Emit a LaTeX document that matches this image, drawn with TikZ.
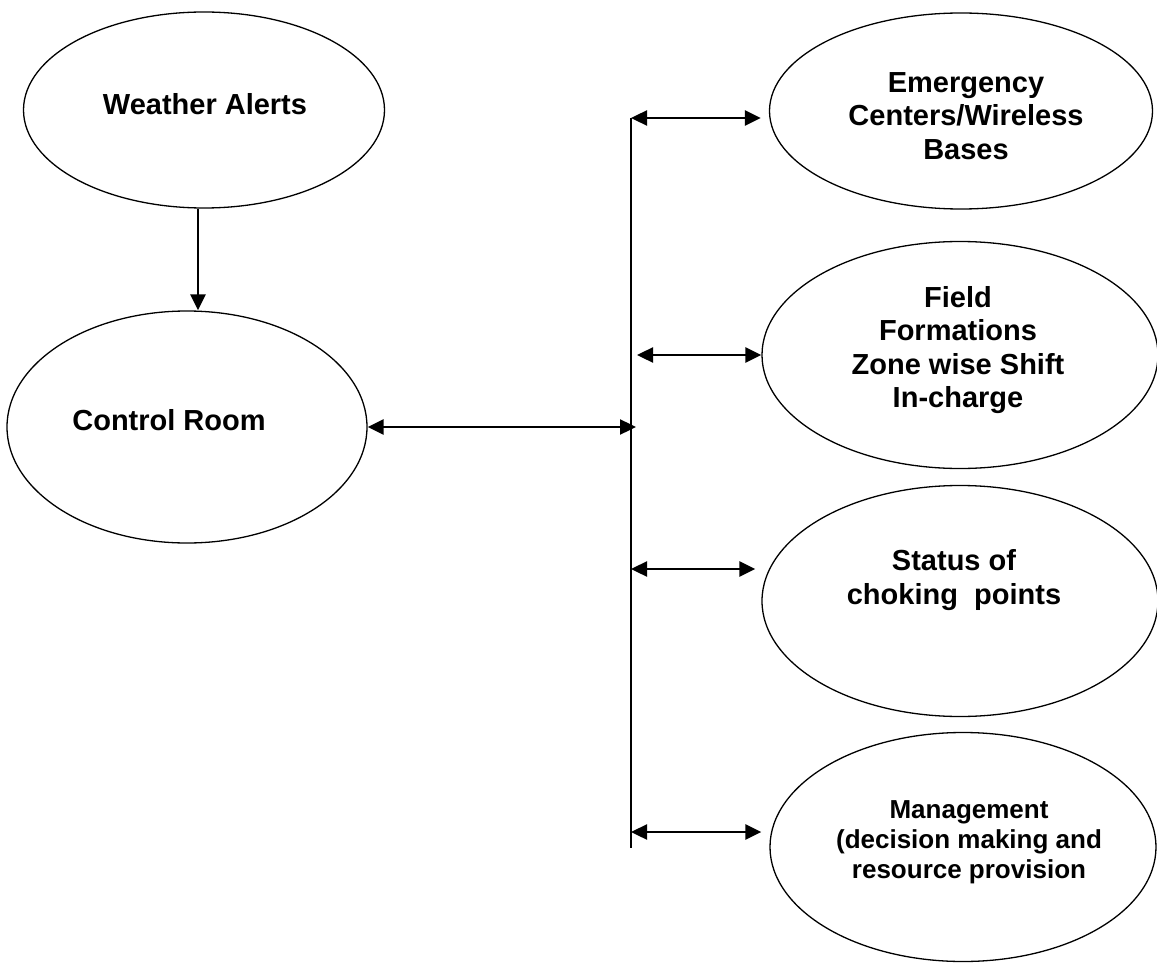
\documentclass[tikz,border=0pt]{standalone}
\usepackage{fontspec}
\setmainfont{Liberation Sans}
\usetikzlibrary{shapes.geometric,arrows.meta}
\tikzset{
  bubble/.style={draw,ellipse,line width=0.65pt,inner sep=0pt},
  tag/.style={font=\bfseries\fontsize{14.5pt}{16.75pt}\selectfont,align=center,inner sep=0pt},
  smalltag/.style={tag,font=\bfseries\fontsize{13pt}{15pt}\selectfont},
}
\begin{document}
\begin{tikzpicture}[x=0.5pt,y=-0.5pt,>={Triangle[length=8pt,width=7.5pt]}]
      \useasboundingbox (0,0) rectangle (1157,963);
      \draw
        (204,110) node[bubble,minimum width=180.5pt,minimum height=98pt] (weather){}
        (187,427) node[bubble,minimum width=180pt,minimum height=116pt] (ctrl){}
        (961,111) node[bubble,minimum width=191.5pt,minimum height=98pt] (emerg){}
        (960,355) node[bubble,minimum width=198pt,minimum height=113.5pt] (field){}
        (960,601) node[bubble,minimum width=198pt,minimum height=115.5pt] (status){}
        (963,847) node[bubble,minimum width=193pt,minimum height=114.5pt] (mgmt){};
      \draw
        (205,104) node[tag] (weathertext){Weather Alerts}
        (169,420) node[tag] (ctrltext){Control Room}
        (966,116) node[tag] (emergtext){Emergency\\Centers/Wireless\\Bases}
        (958,350) node[tag] (fieldtext){Field\\Formations\\Zone wise Shift\\In-charge}
        (954,580) node[tag] (statustext){Status of\\choking\ \ points}
        (969,842) node[smalltag] (mgmttext){Management\\(decision making and\\resource provision};
      \coordinate (bemerg) at (631,118);
      \coordinate (bfield) at (637,355);
      \coordinate (bctrl) at (636,427);
      \coordinate (bstatus) at (631,569);
      \coordinate (bmgmt) at (631,832);
      \coordinate (bend) at (631,848);
      \draw[line width=1pt] (bemerg) -- (bend);
      \begin{scope}[line width=1.2pt]
        \draw[->] ([xshift=-3pt]weather.south) to ([xshift=5.5pt]ctrl.north);
        \draw[<->] (ctrl.east) to (bctrl);
        \draw[<->,shorten >=4pt] (bemerg) to (bemerg -| emerg.west);
        \draw[<->] (bfield) to (field.west);
        \draw[<->,shorten >=3pt] (bstatus) to (bstatus -| status.west);
        \draw[<->,shorten >=4pt] (bmgmt) to (bmgmt -| mgmt.west);
      \end{scope}
    \end{tikzpicture}
\end{document}
